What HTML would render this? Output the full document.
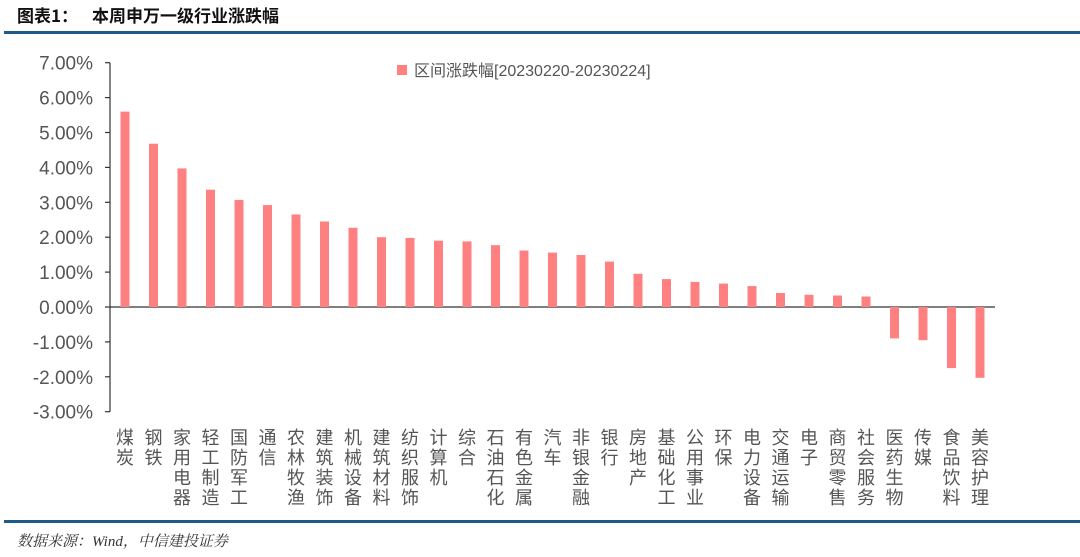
<!DOCTYPE html>
<html><head><meta charset="utf-8"><style>
body{margin:0;background:#fff;width:1080px;height:557px;overflow:hidden;position:relative}
svg{display:block;position:absolute;left:0;top:0}
.l{position:absolute;top:428px;width:18px;font-size:18px;line-height:20px;color:#555;text-align:center;word-break:break-all;font-family:"Liberation Sans","Noto Sans CJK SC",sans-serif}
</style></head><body>
<svg width="1080" height="557" xmlns="http://www.w3.org/2000/svg" font-family="Liberation Sans, Noto Sans CJK SC, sans-serif">
<text x="17" y="22" font-size="17" font-weight="bold" fill="#111" font-family="Noto Sans CJK SC, sans-serif">图表1：</text>
<text x="92" y="22" font-size="17" font-weight="bold" fill="#111" font-family="Noto Sans CJK SC, sans-serif">本周申万一级行业涨跌幅</text>
<rect x="4" y="31" width="1076" height="3" fill="#1f5b8a"/>
<rect x="4" y="520" width="1076" height="3" fill="#1f5b8a"/>
<text x="17" y="546" font-size="15" font-style="italic" fill="#333" font-family="Liberation Serif, Noto Serif CJK SC, serif">数据来源：Wind，中信建投证券</text>
<g stroke="#333" stroke-width="1.2">
<line x1="110" y1="62.7" x2="110" y2="411.7"/>
<line x1="105" y1="62.7" x2="110" y2="62.7"/>
<line x1="105" y1="97.6" x2="110" y2="97.6"/>
<line x1="105" y1="132.5" x2="110" y2="132.5"/>
<line x1="105" y1="167.4" x2="110" y2="167.4"/>
<line x1="105" y1="202.3" x2="110" y2="202.3"/>
<line x1="105" y1="237.2" x2="110" y2="237.2"/>
<line x1="105" y1="272.1" x2="110" y2="272.1"/>
<line x1="105" y1="307" x2="110" y2="307"/>
<line x1="105" y1="341.9" x2="110" y2="341.9"/>
<line x1="105" y1="376.8" x2="110" y2="376.8"/>
<line x1="105" y1="411.7" x2="110" y2="411.7"/>
<line x1="110" y1="307" x2="995" y2="307"/>
</g>
<g font-size="19" fill="#555" text-anchor="end">
<text x="93" y="69.7">7.00%</text>
<text x="93" y="104.6">6.00%</text>
<text x="93" y="139.5">5.00%</text>
<text x="93" y="174.4">4.00%</text>
<text x="93" y="209.3">3.00%</text>
<text x="93" y="244.2">2.00%</text>
<text x="93" y="279.1">1.00%</text>
<text x="93" y="314">0.00%</text>
<text x="93" y="348.9">-1.00%</text>
<text x="93" y="383.8">-2.00%</text>
<text x="93" y="418.7">-3.00%</text>
</g>
<g fill="#ff8080">
<rect x="120.5" y="111.6" width="9" height="195.4"/>
<rect x="149" y="143.7" width="9" height="163.3"/>
<rect x="177.5" y="168.4" width="9" height="138.6"/>
<rect x="206" y="189.7" width="9" height="117.3"/>
<rect x="234.5" y="199.9" width="9" height="107.1"/>
<rect x="263" y="205.1" width="9" height="101.9"/>
<rect x="291.5" y="214.5" width="9" height="92.5"/>
<rect x="320" y="221.5" width="9" height="85.5"/>
<rect x="348.5" y="227.8" width="9" height="79.2"/>
<rect x="377" y="237.2" width="9" height="69.8"/>
<rect x="405.5" y="237.9" width="9" height="69.1"/>
<rect x="434" y="240.7" width="9" height="66.3"/>
<rect x="462.5" y="241.4" width="9" height="65.6"/>
<rect x="491" y="245.2" width="9" height="61.8"/>
<rect x="519.5" y="250.5" width="9" height="56.5"/>
<rect x="548" y="252.6" width="9" height="54.4"/>
<rect x="576.5" y="255" width="9" height="52"/>
<rect x="605" y="261.6" width="9" height="45.4"/>
<rect x="633.5" y="273.8" width="9" height="33.2"/>
<rect x="662" y="279.1" width="9" height="27.9"/>
<rect x="690.5" y="281.9" width="9" height="25.1"/>
<rect x="719" y="283.6" width="9" height="23.4"/>
<rect x="747.5" y="286.1" width="9" height="20.9"/>
<rect x="776" y="293" width="9" height="14"/>
<rect x="804.5" y="294.8" width="9" height="12.2"/>
<rect x="833" y="295.5" width="9" height="11.5"/>
<rect x="861.5" y="296.5" width="9" height="10.5"/>
<rect x="890" y="307" width="9" height="31.4"/>
<rect x="918.5" y="307" width="9" height="33.2"/>
<rect x="947" y="307" width="9" height="61.1"/>
<rect x="975.5" y="307" width="9" height="70.8"/>
<rect x="397" y="65" width="10" height="10"/>
</g>
<text x="414" y="76" font-size="16" fill="#555">区间涨跌幅[20230220-20230224]</text>
</svg>
<div class="l" style="left:116px">煤炭</div>
<div class="l" style="left:144.5px">钢铁</div>
<div class="l" style="left:173px">家用电器</div>
<div class="l" style="left:201.5px">轻工制造</div>
<div class="l" style="left:230px">国防军工</div>
<div class="l" style="left:258.5px">通信</div>
<div class="l" style="left:287px">农林牧渔</div>
<div class="l" style="left:315.5px">建筑装饰</div>
<div class="l" style="left:344px">机械设备</div>
<div class="l" style="left:372.5px">建筑材料</div>
<div class="l" style="left:401px">纺织服饰</div>
<div class="l" style="left:429.5px">计算机</div>
<div class="l" style="left:458px">综合</div>
<div class="l" style="left:486.5px">石油石化</div>
<div class="l" style="left:515px">有色金属</div>
<div class="l" style="left:543.5px">汽车</div>
<div class="l" style="left:572px">非银金融</div>
<div class="l" style="left:600.5px">银行</div>
<div class="l" style="left:629px">房地产</div>
<div class="l" style="left:657.5px">基础化工</div>
<div class="l" style="left:686px">公用事业</div>
<div class="l" style="left:714.5px">环保</div>
<div class="l" style="left:743px">电力设备</div>
<div class="l" style="left:771.5px">交通运输</div>
<div class="l" style="left:800px">电子</div>
<div class="l" style="left:828.5px">商贸零售</div>
<div class="l" style="left:857px">社会服务</div>
<div class="l" style="left:885.5px">医药生物</div>
<div class="l" style="left:914px">传媒</div>
<div class="l" style="left:942.5px">食品饮料</div>
<div class="l" style="left:971px">美容护理</div>
</body></html>
